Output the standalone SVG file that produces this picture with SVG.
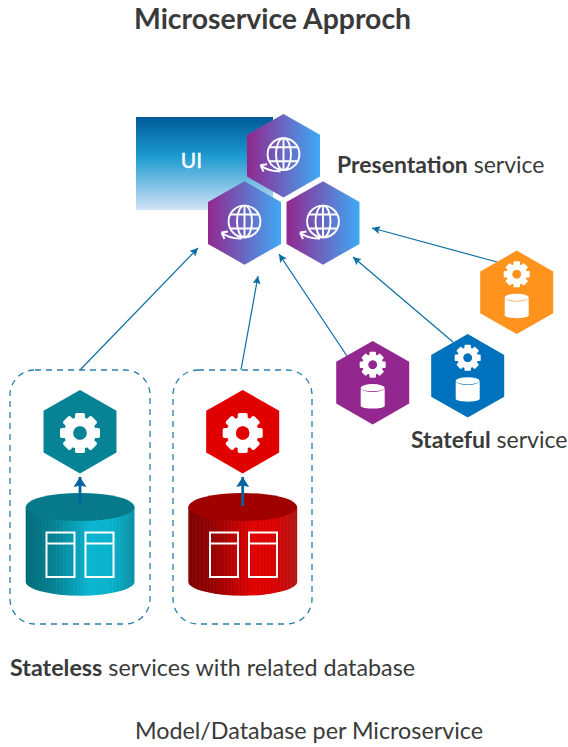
<svg xmlns="http://www.w3.org/2000/svg" width="568" height="747" viewBox="0 0 568 747">
<style>
text{font-family:Lato,"Open Sans",sans-serif;fill:#3a3a3a}
.b{font-weight:700}
.lab{font-size:23px}
.con{fill:none;stroke:#0a6ea6;stroke-width:1.2;marker-end:url(#ah)}
.up{fill:none;stroke:#0563a0;stroke-width:2.8;marker-end:url(#ahb)}
.box{fill:#fff;stroke:#2a7dab;stroke-width:1.3;stroke-dasharray:6 5}
.win{fill:none;stroke:#fff;stroke-width:2}
.glb{fill:none;stroke:#fff;stroke-width:1.9}
</style>
<defs>
<linearGradient id="gh"><stop offset="0" stop-color="#92278f"/><stop offset="1" stop-color="#3fa9f5"/></linearGradient>
<linearGradient id="gu" x1="0" y1="0" x2="0" y2="1"><stop offset="0" stop-color="#005a96"/><stop offset=".42" stop-color="#1c9ad0"/><stop offset="1" stop-color="#d2e3f6"/></linearGradient>
<linearGradient id="gt"><stop offset="0" stop-color="#006a78"/><stop offset=".25" stop-color="#047f90"/><stop offset=".6" stop-color="#07b5d0"/><stop offset=".8" stop-color="#07b0ca"/><stop offset="1" stop-color="#0a8ea5"/></linearGradient>
<linearGradient id="gr"><stop offset="0" stop-color="#7d0000"/><stop offset=".25" stop-color="#990000"/><stop offset=".6" stop-color="#e00000"/><stop offset=".8" stop-color="#d80000"/><stop offset="1" stop-color="#b01515"/></linearGradient>
<pattern id="stripe" patternUnits="userSpaceOnUse" width="3.5" height="10"><rect width="1" height="10" fill="#fff" opacity=".05"/></pattern>
<marker id="ah" markerUnits="userSpaceOnUse" markerWidth="10" markerHeight="10" refX="8" refY="4" orient="auto"><path d="M0 0L8 4L0 8L1.5 4Z" fill="#0a6ea6"/></marker>
<marker id="ahb" markerUnits="userSpaceOnUse" markerWidth="13" markerHeight="14" refX="10" refY="6.5" orient="auto"><path d="M0 0L10 6.5L0 13L1.5 6.5Z" fill="#0563a0"/></marker>
<path id="hex" d="M0-41.7L36.5-20.9V20.9L0 41.7L-36.5 20.9V-20.9Z"/>
<g id="gear" fill="#fff">
<circle r="11.3" fill="none" stroke="#fff" stroke-width="9.4"/>
<g id="t4"><rect id="th" x="-5" y="-20" width="10" height="7" rx="1.8"/><use href="#th" transform="rotate(45)"/><use href="#th" transform="rotate(90)"/><use href="#th" transform="rotate(135)"/></g>
<use href="#t4" transform="rotate(180)"/>
</g>
<g id="db" fill="#fff">
<ellipse cx="0" cy="5" rx="12" ry="3.6"/>
<path d="M-12 5.5C-9 10.5 9 10.5 12 5.5V23.5C9 26.7 -9 26.7 -12 23.5Z"/>
</g>
<g id="globe">
<circle class="glb" cy="-1.5" r="15.9"/><ellipse class="glb" cy="-1.5" rx="7.5" ry="15.9"/>
<path class="glb" d="M0-17.4V14.4M-14-8.5H14M-14 5.5H14"/>
<path class="glb" stroke-width="2.2" d="M-3 15.5Q-15 16-23 9.5M-23 9.5L-16.5 8.5M-23 9.5L-20 16"/>
</g>
</defs>

<text x="134" y="29" font-size="28.4" class="b">Microservice Approch</text>

<g id="ui"><rect x="136" y="117" width="137" height="93" fill="url(#gu)"/><text x="191.5" y="168" font-size="21" text-anchor="middle" style="fill:#fff;stroke:#fff;stroke-width:.4">UI</text></g>

<g id="connectors">
<path class="con" d="M80 370L198 248"/>
<path class="con" d="M241 370L258 276"/>
<path class="con" d="M347 356L279 254"/>
<path class="con" d="M453 342L353 257"/>
<path class="con" d="M497 262L372 228"/>
</g>

<g id="pres-top" transform="translate(283.5 155.7)"><use href="#hex" fill="url(#gh)"/><use href="#globe"/></g>
<g id="pres-left" transform="translate(244.5 223)"><use href="#hex" fill="url(#gh)"/><use href="#globe"/></g>
<g id="pres-right" transform="translate(323 223)"><use href="#hex" fill="url(#gh)"/><use href="#globe"/></g>

<text id="presentation-label" x="337" y="173" class="lab"><tspan class="b">Presentation</tspan> service</text>

<g id="stateful-orange" transform="translate(516.7 292.3)"><use href="#hex" fill="#ff931e"/><use href="#gear" transform="translate(0 -18) scale(.65)"/><circle cy="-18" r="4.2" fill="#ff931e"/><use href="#db"/></g>
<g id="stateful-blue" transform="translate(467.7 375.8)"><use href="#hex" fill="#0071bc"/><use href="#gear" transform="translate(0 -18) scale(.65)"/><circle cy="-18" r="4.2" fill="#0071bc"/><use href="#db"/></g>
<g id="stateful-purple" transform="translate(372.7 382.7)"><use href="#hex" fill="#93278f"/><use href="#gear" transform="translate(0 -18) scale(.65)"/><circle cy="-18" r="4.2" fill="#93278f"/><use href="#db"/></g>

<text id="stateful-label" x="411" y="448" class="lab"><tspan class="b">Stateful</tspan> service</text>

<g id="stateless-teal">
<rect class="box" x="10" y="370" width="140" height="254" rx="25"/>
<use href="#hex" transform="translate(80 431.7)" fill="#068496"/>
<use href="#gear" transform="translate(80 433)"/><circle cx="80" cy="433" r="6.7" fill="#068496"/>
<path d="M25.7 507V581.7A54.4 14 0 0 0 134.5 581.7V507Z" fill="url(#gt)"/>
<path d="M25.7 507V581.7A54.4 14 0 0 0 134.5 581.7V507Z" fill="url(#stripe)"/>
<ellipse cx="80.1" cy="507" rx="54.4" ry="14" fill="#067a8a"/>
<rect class="win" x="46.5" y="532.5" width="28" height="44.5"/><path class="win" d="M46.5 543.5H74.5"/>
<rect class="win" x="85.5" y="532.5" width="28" height="44.5"/><path class="win" d="M85.5 543.5H113.5"/>
<path class="up" d="M80 506V477"/>
</g>

<g id="stateless-red">
<rect class="box" x="173" y="370" width="139" height="254" rx="25"/>
<use href="#hex" transform="translate(242.7 431.7)" fill="#e10000"/>
<use href="#gear" transform="translate(242.7 433)"/><circle cx="242.7" cy="433" r="6.7" fill="#e10000"/>
<path d="M188.3 507V581.7A54.4 14 0 0 0 297.2 581.7V507Z" fill="url(#gr)"/>
<path d="M188.3 507V581.7A54.4 14 0 0 0 297.2 581.7V507Z" fill="url(#stripe)"/>
<ellipse cx="242.7" cy="507" rx="54.4" ry="14" fill="#a00000"/>
<rect class="win" x="210" y="532.5" width="28" height="44.5"/><path class="win" d="M210 543.5H238"/>
<rect class="win" x="249" y="532.5" width="28" height="44.5"/><path class="win" d="M249 543.5H277"/>
<path class="up" d="M242.7 506V477"/>
</g>

<text id="stateless-label" x="10" y="676" font-size="23.3"><tspan class="b">Stateless</tspan> services with related database</text>
<text id="footer" x="135" y="739" font-size="23.3">Model/Database per Microservice</text>
</svg>
